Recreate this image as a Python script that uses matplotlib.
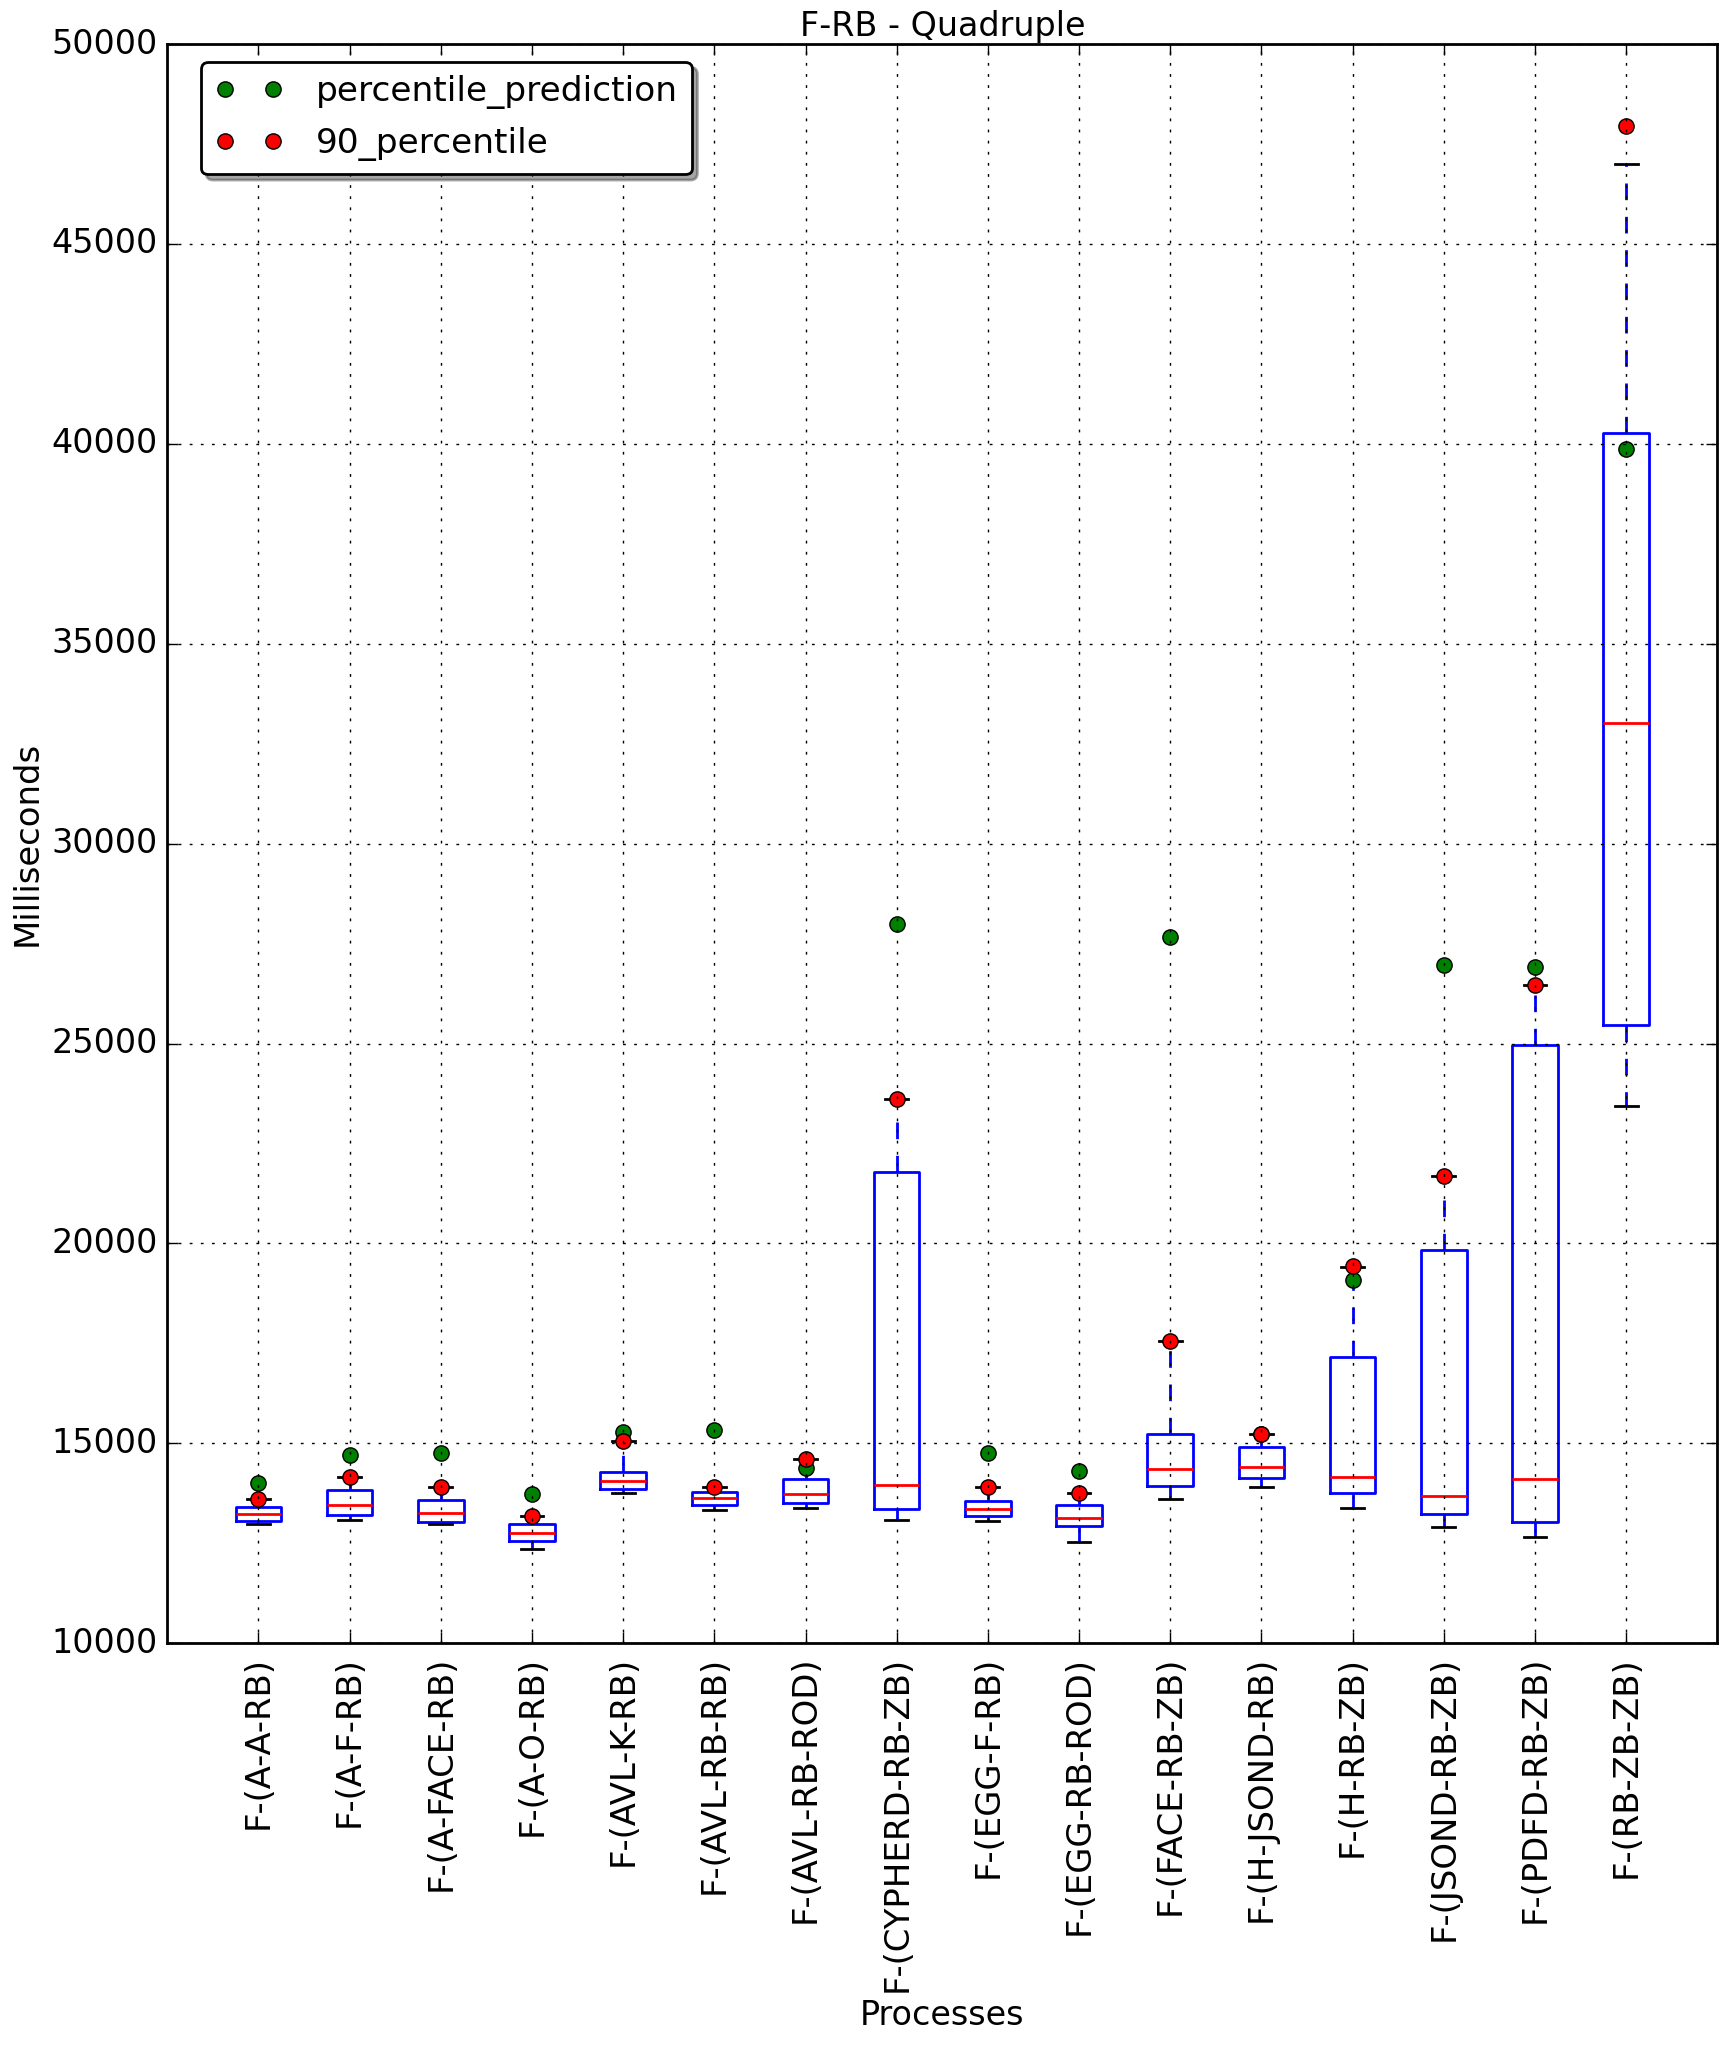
import matplotlib
matplotlib.use("Agg")
import matplotlib.pyplot as plt

plt.style.use("classic")
plt.rcParams["font.family"] = ["DejaVu Sans"]

processes = ["F-(A-A-RB)", "F-(A-F-RB)", "F-(A-FACE-RB)", "F-(A-O-RB)",
             "F-(AVL-K-RB)", "F-(AVL-RB-RB)", "F-(AVL-RB-ROD)", "F-(CYPHERD-RB-ZB)",
             "F-(EGG-F-RB)", "F-(EGG-RB-ROD)", "F-(FACE-RB-ZB)", "F-(H-JSOND-RB)",
             "F-(H-RB-ZB)", "F-(JSOND-RB-ZB)", "F-(PDFD-RB-ZB)", "F-(RB-ZB-ZB)"]

whisker_low = [12992, 13092, 12992, 12367, 13767, 13342, 13392, 13075,
               13050, 12525, 13600, 13900, 13375, 12900, 12650, 23430]
q1 = [13067, 13217, 13033, 12558, 13867, 13458, 13517, 13350,
      13175, 12942, 13925, 14125, 13750, 13225, 13025, 25460]
median = [13242, 13467, 13267, 12767, 14067, 13642, 13742, 13950,
          13350, 13125, 14350, 14400, 14150, 13675, 14100, 33017]
q3 = [13417, 13825, 13592, 12992, 14292, 13792, 14100, 21792,
      13550, 13450, 15225, 14900, 17170, 19845, 24970, 40279]
whisker_high = [13600, 14167, 13917, 13192, 15067, 13917, 14617, 23608,
                13900, 13750, 17550, 15225, 19420, 21680, 26454, 46996]

percentile_90 = [13600, 14167, 13917, 13192, 15067, 13917, 14617, 23608,
                 13900, 13750, 17550, 15225, 19441, 21680, 26454, 47947]
percentile_prediction = [14017, 14717, 14750, 13742, 15292, 15325, 14392, 27990,
                         14750, 14300, 27670, 15225, 19095, 26975, 26904, 39877]

yticks = [10000, 15000, 20000, 25000, 30000, 35000, 40000, 45000, 50000]

fig = plt.figure(figsize=(8.63, 10.23), dpi=200)
ax = fig.add_axes([0.0969, 0.19683, 0.99496 - 0.0969, 0.97849 - 0.19683])

positions = list(range(1, len(processes) + 1))
stats = []
for i in range(len(processes)):
    stats.append(dict(whislo=whisker_low[i], q1=q1[i], med=median[i],
                      q3=q3[i], whishi=whisker_high[i], fliers=[],
                      label=processes[i]))

ax.bxp(stats, positions=positions, widths=0.5, showfliers=False,
       boxprops=dict(color="b", linewidth=1),
       whiskerprops=dict(color="b", linestyle="--", linewidth=1),
       capprops=dict(color="k", linewidth=1),
       medianprops=dict(color="r", linewidth=1))

ax.plot(positions, percentile_prediction, "o", color="g", markeredgecolor="k",
        markersize=5.5, markeredgewidth=0.5, label="percentile_prediction")
ax.plot(positions, percentile_90, "o", color="r", markeredgecolor="k",
        markersize=5.5, markeredgewidth=0.5, label="90_percentile")

ax.set_xlim(0, 17)
ax.set_ylim(10000, 50000)
ax.set_yticks(yticks)
ax.set_yticklabels([str(v) for v in yticks], fontsize=12)
ax.set_xticks(positions)
ax.set_xticklabels(processes, rotation=90, fontsize=12.2)
ax.tick_params(axis="y", which="major", pad=3.3)
ax.tick_params(axis="x", which="major", pad=4.5)
ax.grid(True, color="k", linestyle=":", linewidth=0.5)

ax.set_title("F-RB - Quadruple", fontsize=12, pad=3)
ax.set_xlabel("Processes", fontsize=12)
ax.set_ylabel("Milliseconds", fontsize=12.2)
ax.yaxis.set_label_coords(-0.0795, 0.5)
ax.xaxis.set_label_coords(0.5, -0.2227)

ax.legend(loc="upper left", bbox_to_anchor=(0.02155, 0.98893), borderaxespad=0,
          fancybox=True, shadow=True, numpoints=2, fontsize=12.4,
          handletextpad=0.95)

fig.savefig("out.png", dpi=200)
